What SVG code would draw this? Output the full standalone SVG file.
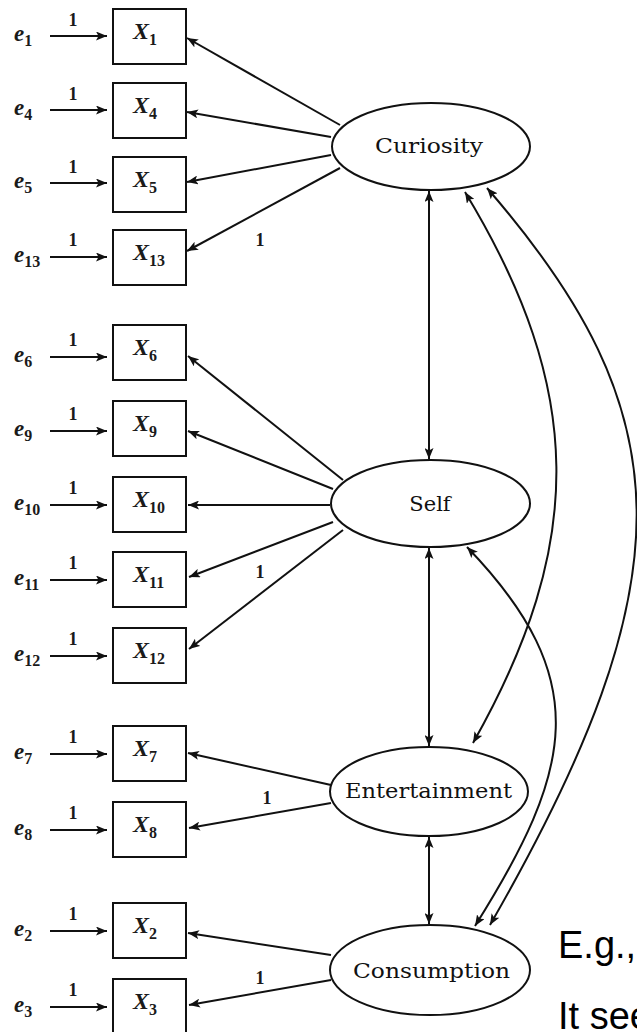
<svg xmlns="http://www.w3.org/2000/svg" width="637" height="1032" viewBox="0 0 637 1032">
<style>
.box{fill:#fff;stroke:#111;stroke-width:2}
.ell{fill:#fff;stroke:#111;stroke-width:2}
.ln{fill:none;stroke:#111;stroke-width:2}
.lat{font-family:"DejaVu Serif","Liberation Serif",serif;font-size:21px;fill:#111;text-anchor:middle}
.var{font-family:"Liberation Serif",serif;font-style:italic;font-weight:bold;font-size:24px;fill:#1a1a1a}
.sub{font-size:16px;font-style:normal}
.err{font-family:"Liberation Serif",serif;font-style:italic;font-weight:bold;font-size:23px;fill:#1a1a1a}
.esub{font-size:16px;font-style:normal}
.one{font-family:"Liberation Serif",serif;font-weight:bold;font-size:18px;fill:#1a1a1a;text-anchor:middle}
.note{font-family:"Liberation Sans",Arial,sans-serif;font-size:38px;fill:#000}
</style>
<defs>
<marker id="ah" viewBox="0 0 11 9" refX="11" refY="4.5" markerWidth="11" markerHeight="9" markerUnits="userSpaceOnUse" orient="auto-start-reverse">
<path d="M0,0 L11,4.5 L0,9 L2.5,4.5 Z" fill="#111"/>
</marker>
</defs>

<g id="connectors">
<!-- error arrows -->
<line class="ln" x1="50" y1="36" x2="107" y2="36" marker-end="url(#ah)"/>
<line class="ln" x1="50" y1="110" x2="107" y2="110" marker-end="url(#ah)"/>
<line class="ln" x1="50" y1="183" x2="107" y2="183" marker-end="url(#ah)"/>
<line class="ln" x1="50" y1="257" x2="107" y2="257" marker-end="url(#ah)"/>
<line class="ln" x1="50" y1="357" x2="107" y2="357" marker-end="url(#ah)"/>
<line class="ln" x1="50" y1="431" x2="107" y2="431" marker-end="url(#ah)"/>
<line class="ln" x1="50" y1="505" x2="107" y2="505" marker-end="url(#ah)"/>
<line class="ln" x1="50" y1="580" x2="107" y2="580" marker-end="url(#ah)"/>
<line class="ln" x1="50" y1="656" x2="107" y2="656" marker-end="url(#ah)"/>
<line class="ln" x1="50" y1="754" x2="107" y2="754" marker-end="url(#ah)"/>
<line class="ln" x1="50" y1="830" x2="107" y2="830" marker-end="url(#ah)"/>
<line class="ln" x1="50" y1="931" x2="107" y2="931" marker-end="url(#ah)"/>
<line class="ln" x1="50" y1="1007" x2="107" y2="1007" marker-end="url(#ah)"/>
<!-- Curiosity loadings -->
<line class="ln" x1="340" y1="125" x2="187" y2="38" marker-end="url(#ah)"/>
<line class="ln" x1="331" y1="137" x2="187" y2="112" marker-end="url(#ah)"/>
<line class="ln" x1="331" y1="155" x2="187" y2="182" marker-end="url(#ah)"/>
<line class="ln" x1="340" y1="168" x2="187" y2="251" marker-end="url(#ah)"/>
<!-- Self loadings -->
<line class="ln" x1="343" y1="480" x2="188" y2="356" marker-end="url(#ah)"/>
<line class="ln" x1="333" y1="489" x2="188" y2="431" marker-end="url(#ah)"/>
<line class="ln" x1="330" y1="505" x2="188" y2="505" marker-end="url(#ah)"/>
<line class="ln" x1="333" y1="522" x2="189" y2="577" marker-end="url(#ah)"/>
<line class="ln" x1="343" y1="530" x2="189" y2="649" marker-end="url(#ah)"/>
<!-- Entertainment loadings -->
<line class="ln" x1="331" y1="785" x2="188" y2="753" marker-end="url(#ah)"/>
<line class="ln" x1="331" y1="803" x2="189" y2="828" marker-end="url(#ah)"/>
<!-- Consumption loadings -->
<line class="ln" x1="331" y1="955" x2="188" y2="933" marker-end="url(#ah)"/>
<line class="ln" x1="331" y1="980" x2="189" y2="1005" marker-end="url(#ah)"/>
<!-- covariances -->
<line class="ln" x1="429" y1="191" x2="429" y2="459" marker-start="url(#ah)" marker-end="url(#ah)"/>
<line class="ln" x1="429" y1="548" x2="429" y2="746" marker-start="url(#ah)" marker-end="url(#ah)"/>
<line class="ln" x1="429" y1="837" x2="429" y2="924" marker-start="url(#ah)" marker-end="url(#ah)"/>
<path class="ln" d="M465,192 C585,390 586,543 473,743" marker-start="url(#ah)" marker-end="url(#ah)"/>
<path class="ln" d="M487,188 C682,413 690,577 490,925" marker-start="url(#ah)" marker-end="url(#ah)"/>
<path class="ln" d="M467,547 C595,680 573,770 475,926" marker-start="url(#ah)" marker-end="url(#ah)"/>
</g>

<g id="labels-1">
<text class="one" x="73" y="26">1</text>
<text class="one" x="73" y="100">1</text>
<text class="one" x="73" y="173">1</text>
<text class="one" x="73" y="246">1</text>
<text class="one" x="73" y="346">1</text>
<text class="one" x="73" y="420">1</text>
<text class="one" x="73" y="494">1</text>
<text class="one" x="73" y="569">1</text>
<text class="one" x="73" y="645">1</text>
<text class="one" x="73" y="743">1</text>
<text class="one" x="73" y="819">1</text>
<text class="one" x="73" y="920">1</text>
<text class="one" x="73" y="996">1</text>
<text class="one" x="260" y="246">1</text>
<text class="one" x="260" y="578">1</text>
<text class="one" x="267" y="804">1</text>
<text class="one" x="260" y="984">1</text>
</g>

<g id="errors">
<text class="err" x="14" y="41">e<tspan class="esub" dy="5">1</tspan></text>
<text class="err" x="14" y="115">e<tspan class="esub" dy="5">4</tspan></text>
<text class="err" x="14" y="188">e<tspan class="esub" dy="5">5</tspan></text>
<text class="err" x="14" y="262">e<tspan class="esub" dy="5">13</tspan></text>
<text class="err" x="14" y="362">e<tspan class="esub" dy="5">6</tspan></text>
<text class="err" x="14" y="436">e<tspan class="esub" dy="5">9</tspan></text>
<text class="err" x="14" y="510">e<tspan class="esub" dy="5">10</tspan></text>
<text class="err" x="14" y="585">e<tspan class="esub" dy="5">11</tspan></text>
<text class="err" x="14" y="661">e<tspan class="esub" dy="5">12</tspan></text>
<text class="err" x="14" y="759">e<tspan class="esub" dy="5">7</tspan></text>
<text class="err" x="14" y="835">e<tspan class="esub" dy="5">8</tspan></text>
<text class="err" x="14" y="936">e<tspan class="esub" dy="5">2</tspan></text>
<text class="err" x="14" y="1012">e<tspan class="esub" dy="5">3</tspan></text>
</g>

<g id="X1"><rect class="box" x="113" y="9" width="73" height="55"/><text class="var" x="133" y="39">X<tspan class="sub" dy="6">1</tspan></text></g>
<g id="X4"><rect class="box" x="113" y="83" width="73" height="55"/><text class="var" x="133" y="113">X<tspan class="sub" dy="6">4</tspan></text></g>
<g id="X5"><rect class="box" x="113" y="157" width="73" height="55"/><text class="var" x="133" y="187">X<tspan class="sub" dy="6">5</tspan></text></g>
<g id="X13"><rect class="box" x="113" y="230" width="73" height="55"/><text class="var" x="133" y="260">X<tspan class="sub" dy="6">13</tspan></text></g>
<g id="X6"><rect class="box" x="113" y="325" width="73" height="55"/><text class="var" x="133" y="355">X<tspan class="sub" dy="6">6</tspan></text></g>
<g id="X9"><rect class="box" x="113" y="401" width="73" height="55"/><text class="var" x="133" y="431">X<tspan class="sub" dy="6">9</tspan></text></g>
<g id="X10"><rect class="box" x="113" y="477" width="73" height="55"/><text class="var" x="133" y="507">X<tspan class="sub" dy="6">10</tspan></text></g>
<g id="X11"><rect class="box" x="113" y="552" width="73" height="55"/><text class="var" x="133" y="582">X<tspan class="sub" dy="6">11</tspan></text></g>
<g id="X12"><rect class="box" x="113" y="628" width="73" height="55"/><text class="var" x="133" y="658">X<tspan class="sub" dy="6">12</tspan></text></g>
<g id="X7"><rect class="box" x="113" y="726" width="73" height="55"/><text class="var" x="133" y="756">X<tspan class="sub" dy="6">7</tspan></text></g>
<g id="X8"><rect class="box" x="113" y="802" width="73" height="55"/><text class="var" x="133" y="832">X<tspan class="sub" dy="6">8</tspan></text></g>
<g id="X2"><rect class="box" x="113" y="903" width="73" height="55"/><text class="var" x="133" y="933">X<tspan class="sub" dy="6">2</tspan></text></g>
<g id="X3"><rect class="box" x="113" y="979" width="73" height="55"/><text class="var" x="133" y="1009">X<tspan class="sub" dy="6">3</tspan></text></g>

<g id="Curiosity"><ellipse class="ell" cx="431" cy="146.5" rx="99" ry="43.5"/><text class="lat" x="429" y="153" textLength="108" lengthAdjust="spacingAndGlyphs">Curiosity</text></g>
<g id="Self"><ellipse class="ell" cx="430.5" cy="503.5" rx="99.5" ry="43.5"/><text class="lat" x="430" y="511">Self</text></g>
<g id="Entertainment"><ellipse class="ell" cx="429" cy="791.5" rx="99" ry="44.5"/><text class="lat" x="428.5" y="798" textLength="167" lengthAdjust="spacingAndGlyphs">Entertainment</text></g>
<g id="Consumption"><ellipse class="ell" cx="430" cy="970" rx="100" ry="45"/><text class="lat" x="431.5" y="978" textLength="157" lengthAdjust="spacingAndGlyphs">Consumption</text></g>

<g id="notes">
<text class="note" x="558" y="958">E.g.,</text>
<text class="note" x="558" y="1029">It see</text>
</g>
</svg>
